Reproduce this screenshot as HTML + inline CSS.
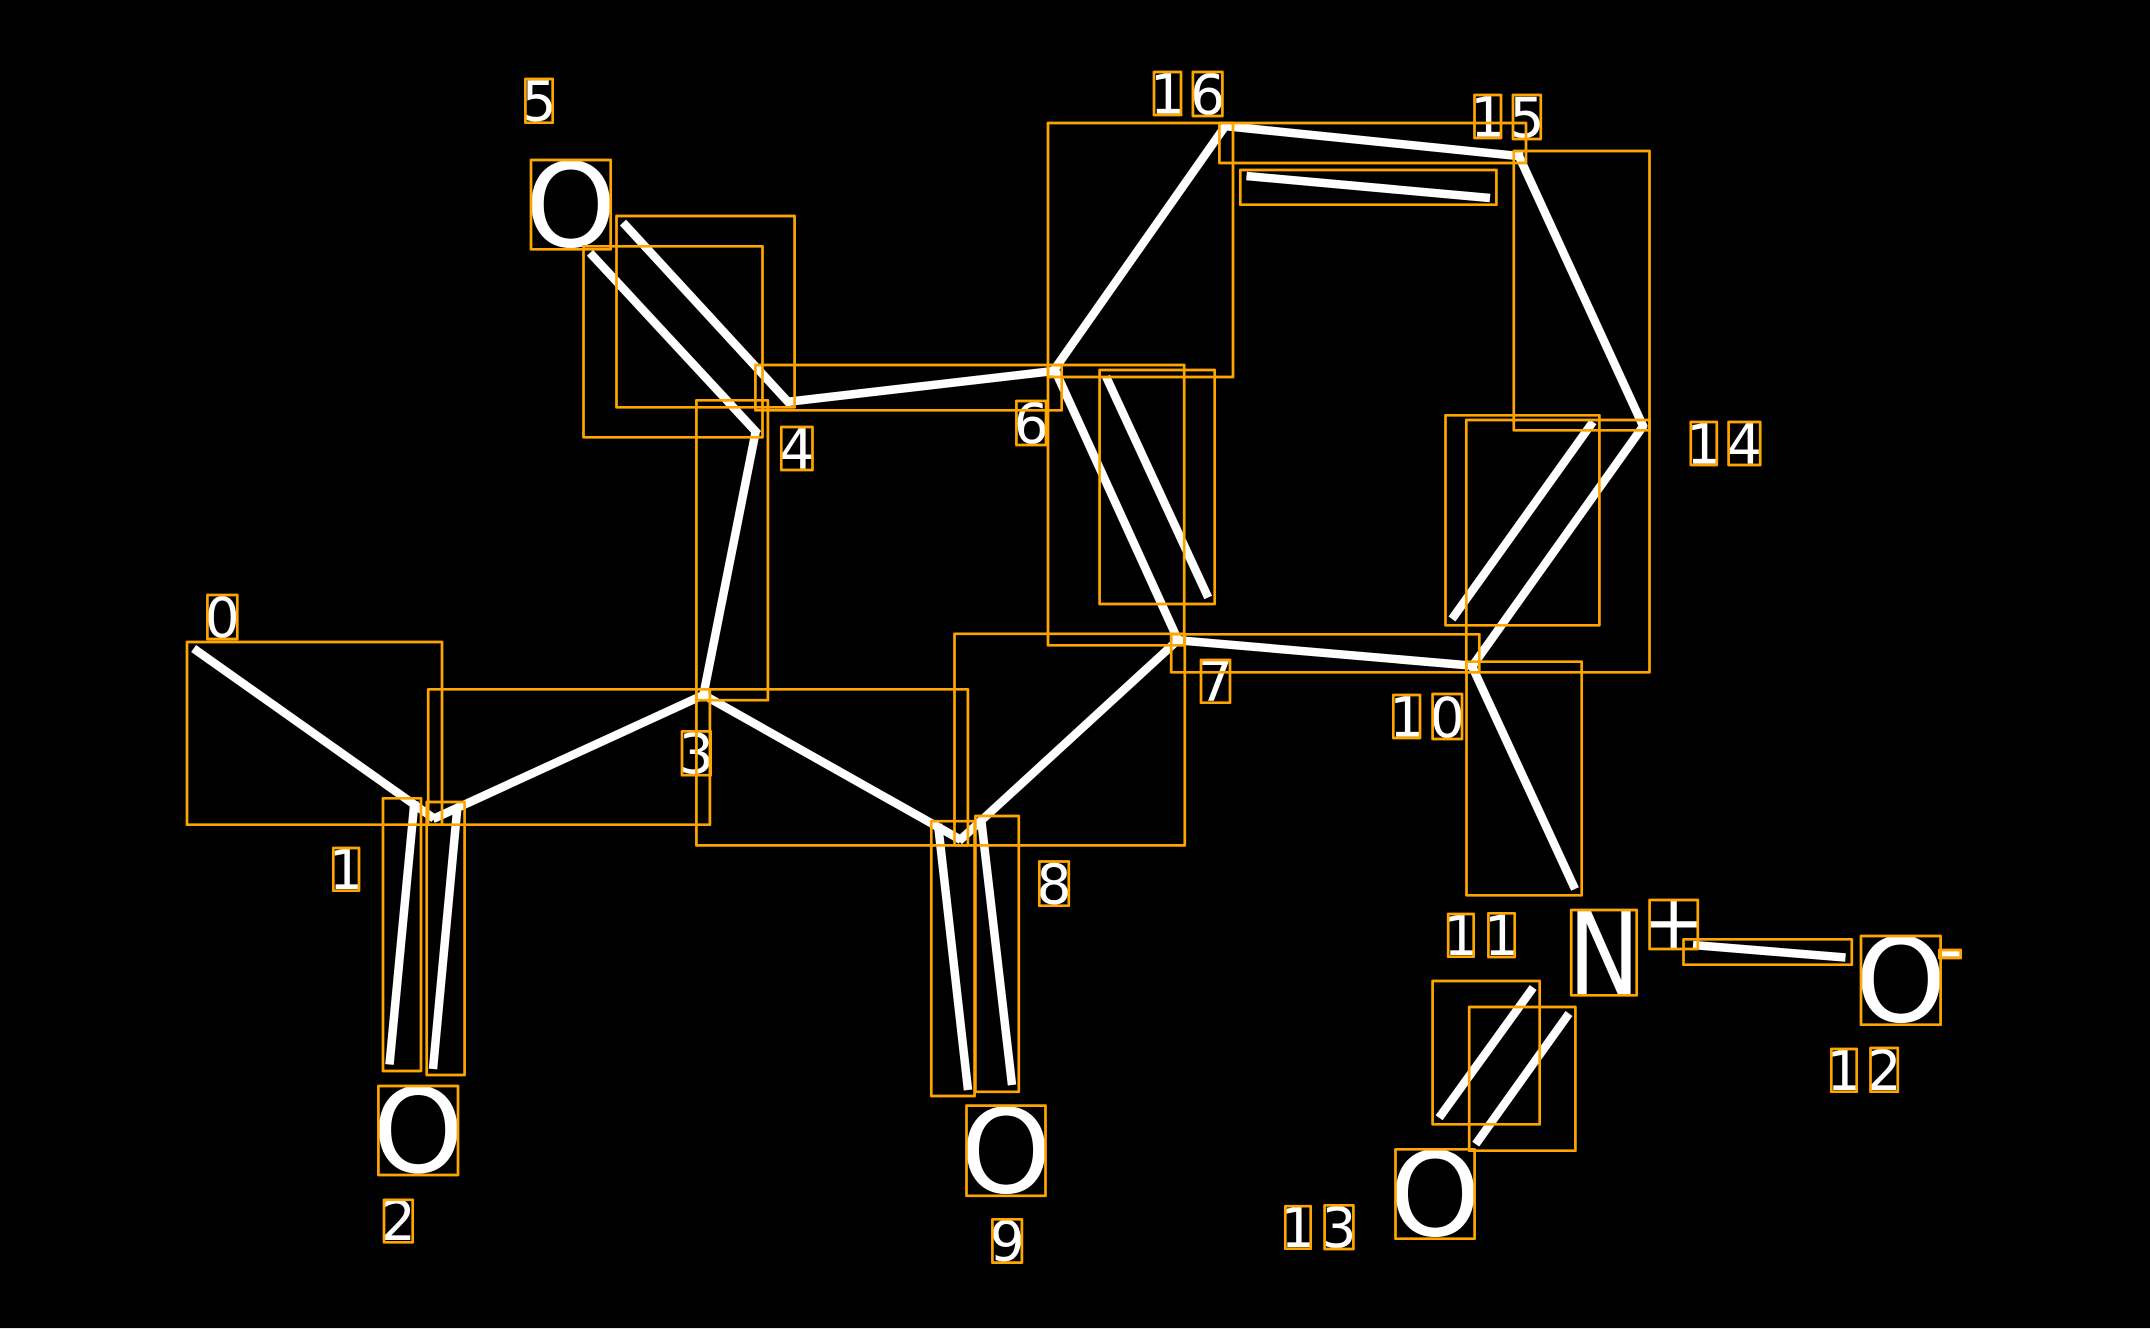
<!DOCTYPE html>
<html><head><meta charset="utf-8"><style>
html,body{margin:0;padding:0;background:#000;width:2150px;height:1329px;overflow:hidden}
svg{display:block}
text{font-family:"DejaVu Sans","Liberation Sans",sans-serif;fill:#fff}
.d{font-size:55px;text-anchor:middle}
.a{font-size:116px;text-anchor:middle}
line{stroke:#fff;stroke-width:8.5;stroke-linecap:butt}
rect{fill:none;stroke:#FFA500;stroke-width:2.7;stroke-linejoin:round}
</style></head><body>
<svg width="2150" height="1329" viewBox="0 0 2150 1329" xmlns="http://www.w3.org/2000/svg">
<rect x="-5" y="-5" width="2160" height="1340" style="fill:#000;stroke:none"/>
<rect x="0" y="1328" width="2150" height="1" style="fill:#e8e8e8;stroke:none"/>
<!-- bonds -->
<line x1="193.6" y1="648.5" x2="434" y2="818.5"/>
<line x1="433" y1="819" x2="703.4" y2="695"/>
<line x1="414.5" y1="801" x2="389.5" y2="1064.5"/>
<line x1="457.5" y1="806" x2="433" y2="1069"/>
<line x1="703" y1="697" x2="756" y2="430"/>
<line x1="702" y1="694" x2="961" y2="840"/>
<line x1="959" y1="841" x2="1178" y2="640"/>
<line x1="938" y1="824" x2="968" y2="1090"/>
<line x1="981" y1="818" x2="1012" y2="1085"/>
<line x1="758" y1="434" x2="590" y2="252.8"/>
<line x1="790" y1="404" x2="623" y2="222.5"/>
<line x1="786" y1="402" x2="1058" y2="370.5"/>
<line x1="1054" y1="370" x2="1226" y2="125"/>
<line x1="1054" y1="368" x2="1178" y2="640"/>
<line x1="1106" y1="376.5" x2="1208.2" y2="597.5"/>
<line x1="1224" y1="126" x2="1523" y2="156.5"/>
<line x1="1246.5" y1="176" x2="1490" y2="198"/>
<line x1="1518" y1="154" x2="1644" y2="428"/>
<line x1="1644" y1="425" x2="1471" y2="668"/>
<line x1="1593" y1="421.8" x2="1452" y2="619"/>
<line x1="1175" y1="640" x2="1476" y2="666"/>
<line x1="1471" y1="664" x2="1575" y2="889"/>
<line x1="1693" y1="945" x2="1845.5" y2="957.5"/>
<line x1="1533.2" y1="987.5" x2="1439.1" y2="1117.8"/>
<line x1="1569" y1="1013.5" x2="1475.7" y2="1144.2"/>
<!-- atoms -->
<text class="a" x="570.8" y="246.5">O</text>
<text class="a" x="418.2" y="1172">O</text>
<text class="a" x="1006" y="1192.5">O</text>
<text class="a" x="1435" y="1235.5">O</text>
<text class="a" x="1900.8" y="1021.5">O</text>
<text class="a" text-anchor="middle" transform="translate(1604,994) scale(.83,1)" x="0" y="0">N</text>
<text x="1673.7" y="948" style="font-size:75px;text-anchor:middle">+</text>
<text x="1950" y="974" style="font-size:75px;text-anchor:middle">-</text>
<!-- index labels -->
<text class="d" x="222.3" y="637">0</text>
<text class="d" x="346.2" y="889">1</text>
<text class="d" x="398.3" y="1240">2</text>
<text class="d" x="696.3" y="773">3</text>
<text class="d" x="796.9" y="468.5">4</text>
<text class="d" x="539" y="120.5">5</text>
<text class="d" x="1031.2" y="443">6</text>
<text class="d" x="1215.5" y="701">7</text>
<text class="d" x="1054" y="903.5">8</text>
<text class="d" x="1007.1" y="1260.5">9</text>
<text class="d" x="1406.7" y="736.5">1</text>
<text class="d" x="1447.3" y="737">0</text>
<text class="d" x="1461" y="955">1</text>
<text class="d" x="1501.5" y="955">1</text>
<text class="d" x="1844" y="1090">1</text>
<text class="d" x="1884" y="1090">2</text>
<text class="d" x="1298" y="1247">1</text>
<text class="d" x="1339" y="1247">3</text>
<text class="d" x="1703.8" y="463.5">1</text>
<text class="d" x="1744.4" y="463.5">4</text>
<text class="d" x="1487.7" y="136.5">1</text>
<text class="d" x="1526.9" y="137">5</text>
<text class="d" x="1167.5" y="113.5">1</text>
<text class="d" x="1207.6" y="114">6</text>
<!-- boxes: bonds -->
<rect x="187" y="642" width="255" height="182.7"/>
<rect x="428.2" y="689.3" width="281.7" height="135.4"/>
<rect x="383" y="798.3" width="38" height="272.7"/>
<rect x="426.7" y="802" width="37.9" height="273"/>
<rect x="696.4" y="400.3" width="71.5" height="299.9"/>
<rect x="696.4" y="689.3" width="271.5" height="156.1"/>
<rect x="954.5" y="633.8" width="230.3" height="211.6"/>
<rect x="931.3" y="821.2" width="43.3" height="274.8"/>
<rect x="975.4" y="816" width="43.4" height="275.8"/>
<rect x="616.5" y="216" width="178.1" height="191.3"/>
<rect x="583.5" y="246.3" width="179" height="191"/>
<rect x="755.4" y="365" width="306.3" height="45.3"/>
<rect x="1048" y="123" width="185" height="254"/>
<rect x="1048" y="365" width="136.2" height="280.3"/>
<rect x="1099.6" y="370" width="115.1" height="234"/>
<rect x="1219.4" y="123" width="306.6" height="40"/>
<rect x="1240.3" y="170" width="256.1" height="34.7"/>
<rect x="1513.8" y="151" width="135.7" height="279.3"/>
<rect x="1466.3" y="420" width="183.2" height="252.3"/>
<rect x="1445.5" y="415.3" width="153.9" height="210"/>
<rect x="1171.2" y="634.3" width="308.1" height="38"/>
<rect x="1466.5" y="661.7" width="115.2" height="233.6"/>
<rect x="1683.5" y="939.3" width="168.3" height="25.4"/>
<rect x="1432.6" y="981" width="107.1" height="143.3"/>
<rect x="1469.2" y="1007" width="106.2" height="143.7"/>
<!-- boxes: atoms -->
<rect x="531" y="160" width="79.7" height="89.3"/>
<rect x="378.4" y="1086" width="79.6" height="89"/>
<rect x="966.5" y="1105.6" width="79" height="90.2"/>
<rect x="1395.5" y="1149.3" width="79.1" height="89.4"/>
<rect x="1861" y="936" width="79.6" height="88.7"/>
<rect x="1571.2" y="910" width="65.5" height="85.3"/>
<rect x="1649.6" y="900" width="48.2" height="49"/>
<rect x="1939.3" y="950" width="21.4" height="8"/>
<!-- boxes: labels -->
<rect x="207.4" y="595" width="29.9" height="44"/>
<rect x="333.3" y="848" width="25.7" height="42.7"/>
<rect x="384" y="1199.8" width="28.7" height="42.5"/>
<rect x="682" y="731.4" width="28.7" height="43.8"/>
<rect x="781.3" y="427" width="31.2" height="43"/>
<rect x="525.4" y="79" width="27.3" height="43.7"/>
<rect x="1016.4" y="401" width="29.6" height="44"/>
<rect x="1201" y="660" width="29" height="42.7"/>
<rect x="1039.3" y="861.5" width="29.5" height="44.2"/>
<rect x="992.4" y="1219.3" width="29.5" height="43.3"/>
<rect x="1393.3" y="695" width="26.7" height="43"/>
<rect x="1432.6" y="694" width="29.4" height="45"/>
<rect x="1448.2" y="914" width="25.5" height="42.7"/>
<rect x="1488.4" y="913.3" width="26.3" height="43.7"/>
<rect x="1831.3" y="1049" width="25.4" height="42.7"/>
<rect x="1870.5" y="1048" width="27.3" height="43.7"/>
<rect x="1285.3" y="1206.2" width="25.4" height="42.5"/>
<rect x="1324.6" y="1205.3" width="28.8" height="43.7"/>
<rect x="1690.8" y="422" width="26" height="43"/>
<rect x="1728.6" y="422" width="31.6" height="43"/>
<rect x="1474.5" y="95" width="26.5" height="43"/>
<rect x="1513" y="95" width="27.8" height="44"/>
<rect x="1154" y="72" width="27" height="43"/>
<rect x="1192.9" y="72" width="29.5" height="44"/>
</svg>
</body></html>
